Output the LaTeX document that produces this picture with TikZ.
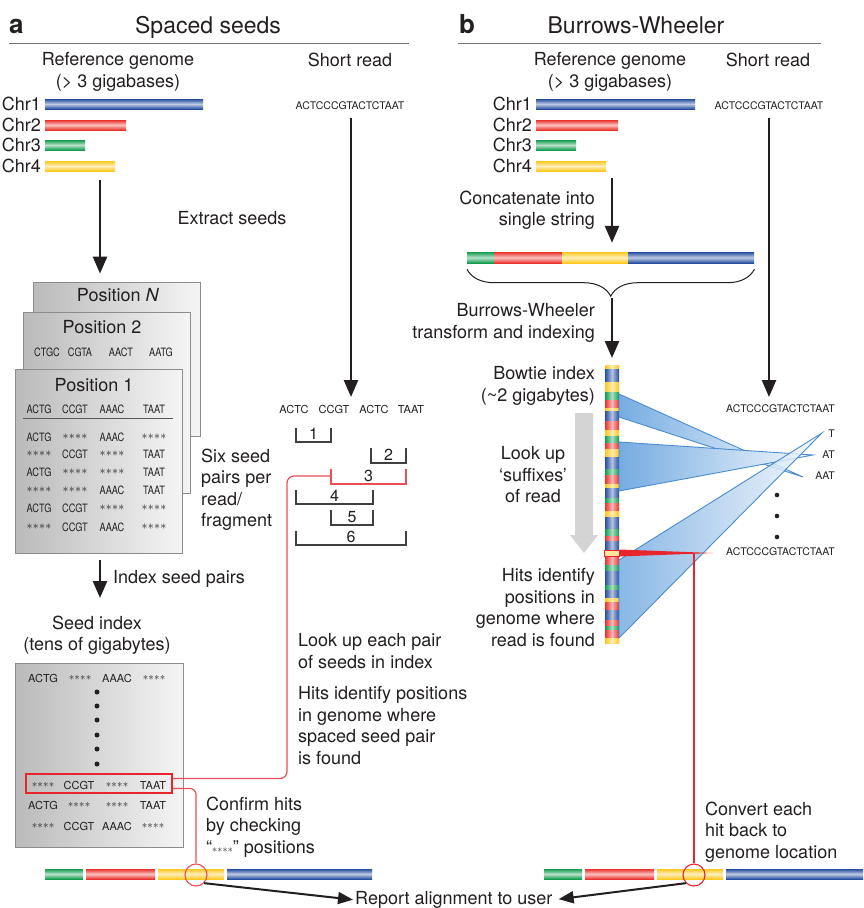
\documentclass[tikz,border=0pt]{standalone}
\usepackage{fontspec}
\setmainfont{TeX Gyre Heros}
\newfontfamily\condfont[FakeStretch=0.8]{TeX Gyre Heros}
\usetikzlibrary{positioning,arrows.meta,decorations.pathreplacing,calc}

\definecolor{ink}{RGB}{35,31,32}
\definecolor{chrblue}{RGB}{38,78,160}
\definecolor{chrred}{RGB}{234,50,44}
\definecolor{chrgreen}{RGB}{18,156,78}
\definecolor{chryellow}{RGB}{252,200,30}
\definecolor{hitred}{RGB}{232,36,44}
\definecolor{seedred}{RGB}{232,80,86}
\definecolor{fanblue}{RGB}{118,172,226}
\definecolor{fanline}{RGB}{74,140,206}

\newcommand{\stars}{\raisebox{0.8pt}{${\ast}\kern0.2pt{\ast}\kern0.2pt{\ast}\kern0.2pt{\ast}$}}

\begin{document}
\begin{tikzpicture}[x=1pt,y=-1pt,
  lbl/.style={font=\fontsize{18}{21.5}\selectfont,text=ink,inner sep=0pt},
  head/.style={font=\fontsize{23}{26}\selectfont,text=ink,inner sep=0pt},
  panel/.style={font=\fontsize{26}{28}\selectfont\bfseries,text=ink,inner sep=0pt},
  dna/.style={font=\fontsize{10.5}{12}\selectfont,text=ink,inner sep=0pt},
  cell/.style={font=\fontsize{11}{12}\selectfont,text=ink,inner sep=0pt},
  cond/.style={font=\condfont\fontsize{11.5}{12}\selectfont,text=ink,inner sep=0pt},
  num/.style={font=\fontsize{16}{18}\selectfont,text=ink,inner sep=0pt,anchor=south},
  bar/.style={rectangle,inner sep=0pt,minimum height=10pt,anchor=west,
    top color=#1,bottom color=#1,middle color=#1!30!white},
  stripe/.style={left color=#1,right color=#1,middle color=#1!35!white},
  posbox/.style={rectangle,inner sep=0pt,draw=black!45,line width=0.8pt,
    left color=black!27,right color=black!4},
  dot/.style={circle,fill=ink,inner sep=0pt,minimum size=5pt}]

\tikzset{
  rule/.style={draw=black!55,line width=0.9pt},
  bigarrow/.style={draw=ink,line width=2.5pt,-{Triangle[length=17pt,width=14pt]}},
  reparrow/.style={draw=ink,line width=2pt,-{Triangle[length=15pt,width=12pt]}},
  bracket/.style={draw=black!75,line width=1.1pt},
  seedline/.style={draw=seedred,line width=1.2pt},
  hitline/.style={draw=hitred,line width=1.2pt},
  ring/.style={circle,draw=#1,line width=1.1pt,minimum size=22pt,inner sep=0pt},
  fan/.style={draw=fanline,line width=0.9pt,left color=fanblue,right color=fanblue!8!white}
}

    \path[use as bounding box,fill=white] (0,0) rectangle (863,908);

    % a: spaced seeds
    \node[panel,anchor=base west] (labA) at (9,33) {a};
    \node[head,anchor=base] (headA) at (208,33) {Spaced seeds};
    \draw[rule] (9,43) -- (409,43);
    \node[lbl,anchor=north,align=center] (refA) at (118,52.5) {Reference genome\\(> 3 gigabases)};
    \node[lbl,anchor=north] (shortA) at (350,52.5) {Short read};
    \foreach \i/\y/\w/\col in {1/104/158/chrblue,2/125/81/chrred,3/145/40/chrgreen,4/166/70/chryellow}{
      \node[bar=\col,minimum width=\w pt] (chrA\i) at (45,\y) {};
      \node[lbl,anchor=east] (chrlA\i) at (41,\y) {Chr\i};
    }
    \node[dna] (readA) at (350,106) {ACTCCCGTACTCTAAT};

    \node[posbox,minimum width=167pt,minimum height=154pt] (posN) at (116.5,359) {};
    \node[posbox,minimum width=167pt,minimum height=181pt] (pos2) at (106.5,402.5) {};
    \node[posbox,minimum width=167pt,minimum height=184pt] (pos1) at (98.5,461) {};
    \node[lbl] (tposN) at (118,295) {Position \textit{N}};
    \node[lbl] (tpos2) at (102,327) {Position 2};
    \node[lbl] (tpos1) at (94,385) {Position 1};
    \foreach \x/\t [count=\k] in {47/CTGC,80/CGTA,121/AACT,161/AATG}
      \node[cond] (p2c\k) at (\x,352) {\t};
    \foreach \x/\t [count=\k] in {39/ACTG,75/CCGT,112/AAAC,154/TAAT}
      \node[cond] (p1h\k) at (\x,409) {\t};
    \draw[draw=black!65,line width=0.9pt] (23,418) -- (173,418);
    \foreach \y/\ca/\cb/\cc/\cd [count=\r] in {437/ACTG/\stars/AAAC/\stars,
        454/\stars/CCGT/\stars/TAAT, 472/ACTG/\stars/\stars/TAAT,
        490/\stars/\stars/AAAC/TAAT, 508/ACTG/CCGT/\stars/\stars,
        527/\stars/CCGT/AAAC/\stars}{
      \node[cond] (p1r\r-1) at (39,\y) {\ca};
      \node[cond] (p1r\r-2) at (75,\y) {\cb};
      \node[cond] (p1r\r-3) at (112,\y) {\cc};
      \node[cond] (p1r\r-4) at (154,\y) {\cd};
    }
    \node[lbl,anchor=north west,align=left] (sixA) at (201,448.5) {Six seed\\pairs per\\read/\\fragment};

    \coordinate (extA) at (100,0);
    \draw[bigarrow,shorten <=9pt,shorten >=8pt] (chrA4.south -| extA) -- (extA |- posN.north);
    \node[lbl] (extlbl) at (232,218) {Extract seeds};

    \coordinate (seedsA) at (351,404);
    \draw[bigarrow,shorten <=8pt,shorten >=7pt] (readA.south -| seedsA) -- (seedsA);
    \foreach \x/\t [count=\k] in {294/ACTC,334/CCGT,374/ACTC,411/TAAT}
      \node[cell] (sd\k) at (\x,409) {\t};
    \foreach \xa/\xb/\yt/\yb/\n in {296/331/428/442/1,371/406/448/463/2,
        296/373/490/504/4,331/373/510/525/5,296/406/531/545/6}{
      \draw[bracket] (\xa,\yt) -- (\xa,\yb) -- (\xb,\yb) -- (\xb,\yt);
      \node[num] (br\n) at ({(\xa+\xb)/2},\yb-2) {\n};
    }
    \draw[seedline] (331,469) -- (331,484) -- (406,484) -- (406,469);
    \node[num] (br3) at (368.5,482) {3};
    \coordinate (br3l) at (331,476);

    \draw[bigarrow,shorten <=7pt,shorten >=17pt] (pos1.south -| extA) -- (extA |- 0,615);
    \node[lbl,anchor=base west] (idxlbl) at (113,583.5) {Index seed pairs};
    \node[lbl,anchor=north,align=center] (seedlbl) at (97,615.5) {Seed index\\(tens of gigabytes)};

    \node[posbox,minimum width=168pt,minimum height=184pt] (seedidx) at (99,755) {};
    \foreach \x/\t [count=\k] in {43/ACTG,80/\stars,117/AAAC,154/\stars}
      \node[cell] (si0-\k) at (\x,678) {\t};
    \foreach \y [count=\k] in {692,706,720,735,749,764}
      \node[dot] (sdot\k) at (97,\y) {};
    \node[draw=hitred,line width=1.1pt,minimum width=146pt,minimum height=19pt,inner sep=0pt] (idxhit) at (99,783.5) {};
    \foreach \y/\ca/\cb/\cc/\cd [count=\r] in {785/\stars/CCGT/\stars/TAAT,
        805/ACTG/\stars/\stars/TAAT, 826/\stars/CCGT/AAAC/\stars}{
      \node[cell] (si\r-1) at (43,\y) {\ca};
      \node[cell] (si\r-2) at (79,\y) {\cb};
      \node[cell] (si\r-3) at (117,\y) {\cc};
      \node[cell] (si\r-4) at (153,\y) {\cd};
    }

    \node[lbl,anchor=north west,align=left] (lookA) at (298,633.5) {Look up each pair\\of seeds in index};
    \node[lbl,anchor=north west,align=left] (hitsA) at (298,686.5) {Hits identify positions\\in genome where\\spaced seed pair\\is found};
    \node[lbl,anchor=north west,align=left] (confA) at (206,796.5) {Confirm hits\\by checking\\“{\fontsize{10}{12}\selectfont\stars}” positions};

    \foreach \n/\xa/\w/\col in {gA/45/38/chrgreen,rA/86/69/chrred,yA/158/66/chryellow,bA/227/145/chrblue}
      \node[bar=\col,minimum width=\w pt] (\n) at (\xa,874) {};
    \node[ring=seedred] (hitA) at (196,875) {};
    \draw[seedline,rounded corners=7pt] (br3l) -- (287,476) -- (287,778.5) -- ([yshift=5pt]idxhit.east);
    \draw[seedline,rounded corners=6pt] ([yshift=-5pt]idxhit.east) -| (hitA.north);

    \node[lbl,anchor=base west] (report) at (355,904.5) {Report alignment to user};
    \draw[reparrow,shorten >=2pt] (hitA.south east) -- (report.west);

    % b: Burrows-Wheeler
    \node[panel,anchor=base west] (labB) at (459,33) {b};
    \node[head,anchor=base] (headB) at (636,33) {Burrows-Wheeler};
    \draw[rule] (458,43) -- (821,43);
    \node[lbl,anchor=north,align=center] (refB) at (610,52.5) {Reference genome\\(> 3 gigabases)};
    \node[lbl,anchor=north] (shortB) at (768,52.5) {Short read};
    \foreach \i/\y/\w/\col in {1/104/159/chrblue,2/125/82/chrred,3/145/40/chrgreen,4/166/70/chryellow}{
      \node[bar=\col,minimum width=\w pt] (chrB\i) at (536,\y) {};
      \node[lbl,anchor=east] (chrlB\i) at (532,\y) {Chr\i};
    }
    \node[dna] (readB) at (769,106) {ACTCCCGTACTCTAAT};

    \coordinate (catA) at (612,178);
    \foreach \n/\xa/\w/\col in {cg/467/27/chrgreen,cr/494/68/chrred,cy/562/66/chryellow,cb/628/126/chrblue}
      \node[bar=\col,minimum width=\w pt,minimum height=11pt] (\n) at (\xa,257.5) {};
    \draw[bigarrow,shorten >=9pt] (catA) -- (catA |- cy.north);
    \node[lbl,anchor=north east,align=right] (catlbl) at (595,190.5) {Concatenate into\\single string};
    \draw[draw=ink,line width=1pt,decorate,decoration={brace,amplitude=27pt}]
      ([yshift=-6pt]cb.south east) -- ([yshift=-6pt]cg.south west);

    \coordinate (bwtTop) at (612,365);
    \draw[bigarrow,shorten >=7pt] (612,298) -- (bwtTop);
    \node[lbl,anchor=north east,align=right] (bwlbl) at (595,303.5) {Burrows-Wheeler\\transform and indexing};

    % bowtie index column
    \foreach \col/\yb [remember=\yb as \ya (initially 365)] in {chryellow/369,chrblue/382,
        chryellow/392,chrgreen/400,chrred/408,chryellow/411,chrblue/421,chrred/430,
        chryellow/436,chrgreen/443,chrred/449,chryellow/457,chrblue/469,chrgreen/475,
        chrred/484,chryellow/488,chrblue/498,chrgreen/503,chrred/511,chryellow/517,
        chrblue/529,chrgreen/536,chrred/541,chrblue/550,chryellow/556,chrred/565,
        chrgreen/571,chrblue/585,chrgreen/590,chrblue/598,chryellow/602,chrred/610,
        chrblue/620,chrred/626,chrgreen/630,chrred/638,chryellow/643}
      \path[stripe=\col] (605,\ya) rectangle (619,\yb);
    \node[lbl,anchor=north east,align=right] (bowlbl) at (595,366.5) {Bowtie index\\(\textasciitilde 2 gigabytes)};
    \fill[black!17] (575,413) -- (593,413) -- (593,535) -- (598,535) -- (584,553) -- (570,535) -- (575,535) -- cycle;
    \node[lbl,anchor=north,align=center] (suflbl) at (533,446.5) {Look up\\‘suffixes’\\of read};
    \node[lbl,anchor=north east,align=right] (hitsB) at (595,568.5) {Hits identify\\positions in\\genome where\\read is found};

    \draw[bigarrow,shorten <=8pt,shorten >=7pt] (readB.south) -- (769,404);
    \node[dna,anchor=east] (readB2) at (835,409) {ACTCCCGTACTCTAAT};
    \node[dna,anchor=east] (sufT) at (835,434) {T};
    \node[dna,anchor=east] (sufAT) at (835,455) {AT};
    \node[dna,anchor=east] (sufAAT) at (835,476) {AAT};
    \foreach \y [count=\k] in {495,516,537}
      \node[dot,minimum size=4.6pt] (bdot\k) at (777,\y) {};
    \node[dna,anchor=east] (readB3) at (835,552) {ACTCCCGTACTCTAAT};
    \coordinate (tipT) at (822,433);
    \coordinate (tipAT) at (813,455);
    \coordinate (tipAAT) at (803,477);
    \path[fan] (619,394) -- (tipAAT) -- (619,417) -- cycle;
    \path[fan] (619,442) -- (tipAT) -- (619,491) -- cycle;
    \path[fan,fill opacity=0.85] (619,560) -- (tipT) -- (619,638) -- cycle;

    \node[draw=hitred,fill=chryellow!45,line width=1pt,minimum width=15pt,minimum height=6pt,inner sep=0pt] (bwthit) at (611.5,553) {};
    \coordinate (hitTip) at (713,553);
    \fill[hitred] (bwthit.north east) -- (hitTip) -- (bwthit.south east) -- cycle;
    \coordinate (hitDrop) at (694,553);

    \foreach \n/\xa/\w/\col in {gB/544/38/chrgreen,rB/585/69/chrred,yB/657/66/chryellow,bB/726/137/chrblue}
      \node[bar=\col,minimum width=\w pt] (\n) at (\xa,874) {};
    \node[ring=hitred] (hitB) at (694,875) {};
    \draw[hitline] (hitDrop) -- (hitB.north);
    \node[lbl,anchor=north west,align=left] (convB) at (705,801.5) {Convert each\\hit back to\\genome location};
    \draw[reparrow,shorten >=6pt] (hitB.south west) -- (report.east);

\end{tikzpicture}
\end{document}
